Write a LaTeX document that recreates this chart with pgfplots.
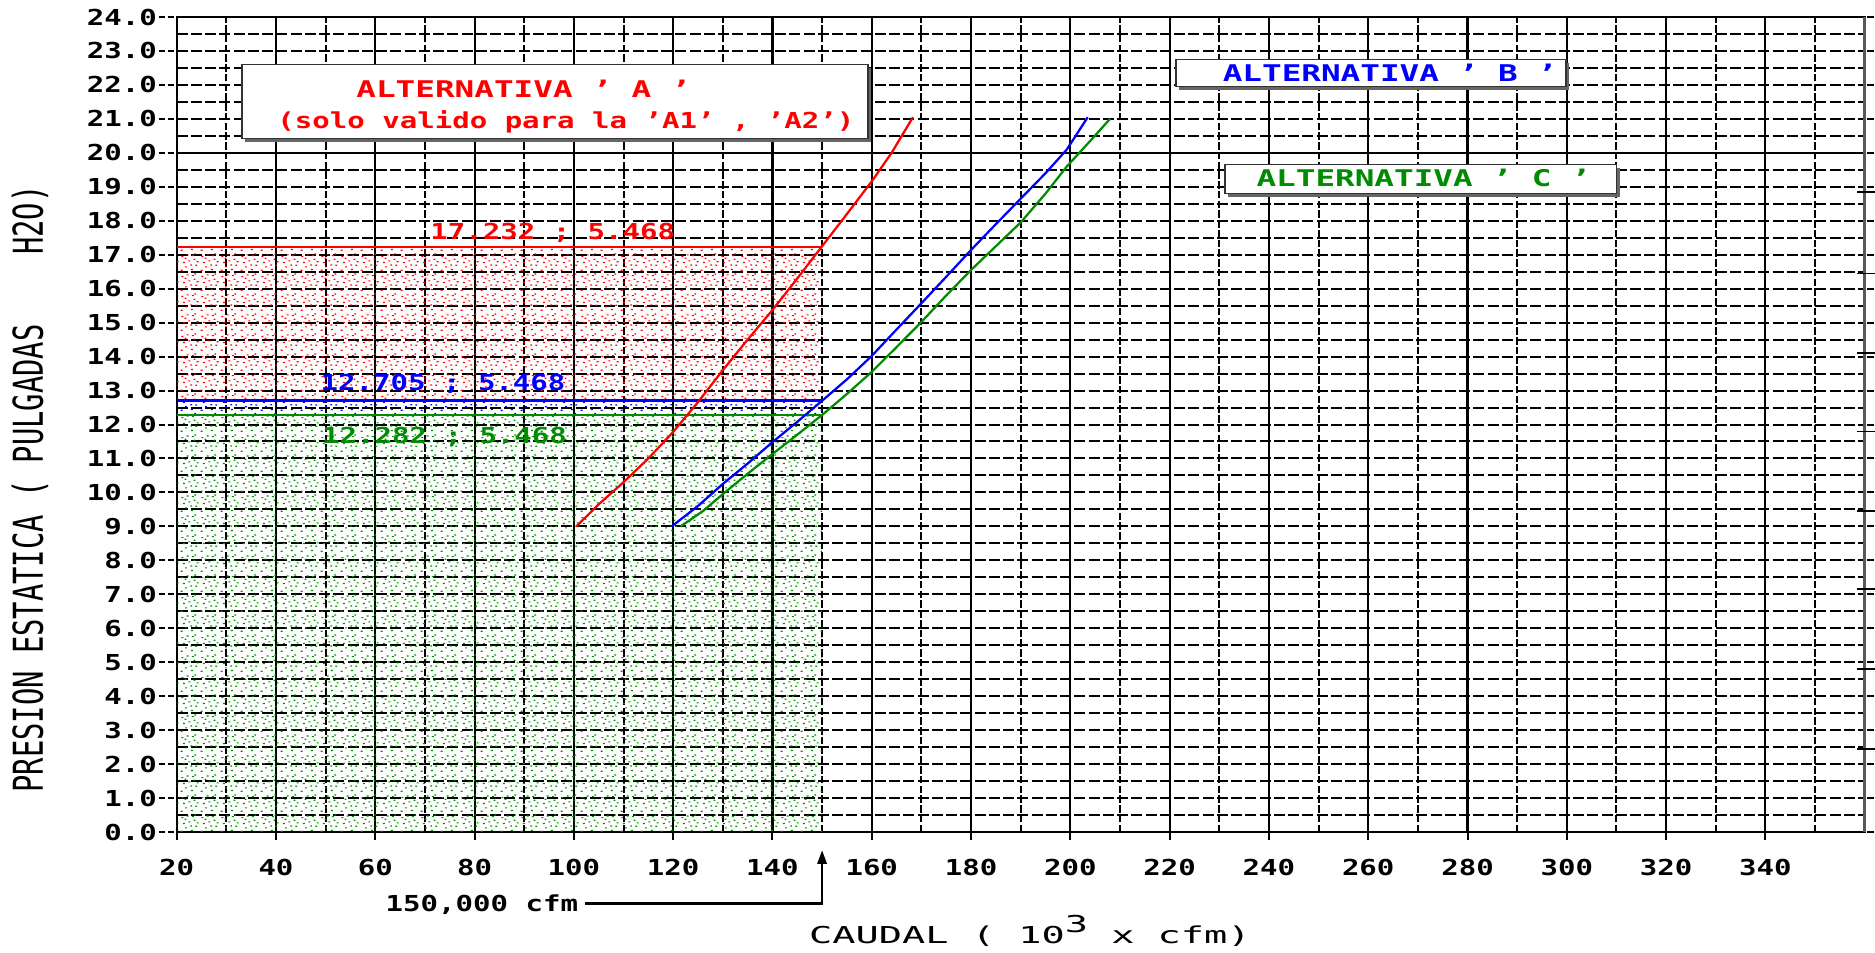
\documentclass[border=0pt]{standalone}
\usepackage{fontspec}
\setmainfont{DejaVu Sans Mono}[FakeStretch=1.32]
\newfontfamily\fbx{DejaVu Sans Mono}[FakeStretch=1.42]
\newfontfamily\fyl{DejaVu Sans Mono}[FakeStretch=0.70]
\newfontfamily\fcd{DejaVu Sans Mono}[FakeStretch=1.66]
\usepackage{graphicx}
\usepackage{pgfplots}
\pgfplotsset{compat=1.18}
\usetikzlibrary{patterns,arrows.meta}

\definecolor{cR}{RGB}{255,0,0}
\definecolor{cB}{RGB}{0,0,255}
\definecolor{cG}{RGB}{0,140,0}

\newcommand\speck[2]{\pgfpathrectangle{\pgfqpoint{#1pt}{#2pt}}{\pgfqpoint{0.8pt}{0.5pt}}}
\pgfdeclarepatternformonly{stipple}{\pgfqpoint{0pt}{0pt}}{\pgfqpoint{8pt}{8pt}}{\pgfqpoint{8pt}{8pt}}{%
  \speck{0.3}{0.5}\speck{2.1}{1.9}\speck{4.6}{0.8}\speck{6.4}{2.6}\speck{1.2}{3.7}%
  \speck{3.5}{4.4}\speck{5.7}{5.1}\speck{7.0}{4.0}\speck{0.6}{6.2}\speck{2.8}{6.9}%
  \speck{4.3}{2.7}\speck{6.0}{7.3}\speck{1.9}{5.5}\speck{5.0}{6.6}%
  \pgfusepath{fill}}

\begin{document}
\begin{tikzpicture}
\path[use as bounding box] (-70.68pt,-48pt) rectangle (679.32pt,332.8pt);
\begin{axis}[
  scale only axis, width=675.2pt, height=326pt,
  xmin=20, xmax=360, ymin=0, ymax=24,
  clip=false,
  axis line style={black, line width=0.8pt},
  xtick={20,40,60,80,100,120,140,160,180,200,220,240,260,280,300,320,340},
  xticklabels={20,40,60,80,100,120,140,160,180,200,220,240,260,280,300,320,340},
  minor xtick={30,50,70,90,110,130,150,170,190,210,230,250,270,290,310,330,350},
  ytick={0,1,2,3,4,5,6,7,8,9,10,11,12,13,14,15,16,17,18,19,20,21,22,23,24},
  yticklabels={0.0,1.0,2.0,3.0,4.0,5.0,6.0,7.0,8.0,9.0,10.0,11.0,12.0,13.0,14.0,15.0,16.0,17.0,18.0,19.0,20.0,21.0,22.0,23.0,24.0},
  minor ytick={0.5,1.5,2.5,3.5,4.5,5.5,6.5,7.5,8.5,9.5,10.5,11.5,12.5,13.5,14.5,15.5,16.5,17.5,18.5,19.5,20.5,21.5,22.5,23.5},
  xmajorgrids, xminorgrids, ymajorgrids, yminorgrids,
  major x grid style={black, line width=0.85pt},
  minor x grid style={black, line width=0.8pt, dash pattern=on 3pt off 0.9pt},
  major y grid style={black, line width=0.8pt, dash pattern=on 4.4pt off 1.3pt},
  minor y grid style={black, line width=0.8pt, dash pattern=on 4.4pt off 1.3pt},
  tick align=outside, major tick length=7.2pt, minor tick length=0pt,
  xtick style={draw=none},
  ytick style={black, line width=0.8pt, dash pattern=on 2.6pt off 1pt},
  xticklabel style={font=\bfseries\fontsize{8.8}{10}\selectfont},
  yticklabel style={font=\bfseries\fontsize{8.8}{10}\selectfont, xshift=2.8pt},
]
% shaded regions
\addplot[draw=none, pattern=stipple, pattern color=cG] coordinates {(20,0) (150,0) (150,12.282) (20,12.282)};
\addplot[draw=none, pattern=stipple, pattern color=cB] coordinates {(20,12.282) (150,12.282) (150,12.705) (20,12.705)};
\addplot[draw=none, pattern=stipple, pattern color=cR] coordinates {(20,12.705) (150,12.705) (150,17.232) (20,17.232)};
% operating point lines
\addplot[cR, line width=1pt] coordinates {(20,17.232) (150,17.232)};
\addplot[cB, line width=1pt] coordinates {(20,12.705) (150,12.705)};
\addplot[cG, line width=1pt] coordinates {(20,12.282) (150,12.282)};
% solid grid line at 20
\addplot[black, line width=0.9pt] coordinates {(20,20) (360,20)};
% curves
\addplot[cR, line width=0.9pt] coordinates {(100.5,9.0) (105,9.65) (110,10.3) (115,11.0) (120,11.78) (125,12.66) (130,13.6) (135,14.5) (140,15.37) (145,16.3) (150,17.25) (155,18.2) (160,19.16) (164,20.0) (168.3,21.05)};
\addplot[cB, line width=0.9pt] coordinates {(119.7,9.0) (125,9.6) (130,10.25) (135,10.85) (140,11.48) (145,12.08) (150,12.7) (155,13.33) (160,14.02) (165,14.8) (170,15.57) (175,16.35) (180,17.14) (185,17.9) (190,18.65) (195,19.4) (199.3,20.1) (203.5,21.05)};
\addplot[cG, line width=0.9pt] coordinates {(121.5,9.0) (126,9.45) (130,9.95) (135,10.55) (140,11.13) (145,11.7) (150,12.28) (155,12.9) (160,13.55) (165,14.28) (170,15.02) (175,15.8) (180,16.55) (185,17.25) (190,17.95) (195,18.8) (199.3,19.6) (204,20.35) (208,21.0)};
% right border
\addplot[black!65, line width=1.2pt] coordinates {(360,0) (360,24)};
% x ticks
\addplot[ycomb, black, line width=0.8pt, mark=none] coordinates {(20,-0.2356) (40,-0.2356) (60,-0.2356) (80,-0.2356) (100,-0.2356) (120,-0.2356) (140,-0.2356) (160,-0.2356) (180,-0.2356) (200,-0.2356) (220,-0.2356) (240,-0.2356) (260,-0.2356) (280,-0.2356) (300,-0.2356) (320,-0.2356) (340,-0.2356)};
% marks on right edge
\addplot[black, line width=0.6pt, unbounded coords=jump] coordinates {(358.4,18.85) (362,18.85) (362,nan) (358.4,16.45) (362,16.45) (362,nan) (358.4,14.1) (362,14.1) (362,nan) (358.4,11.8) (362,11.8) (362,nan) (358.4,9.45) (362,9.45) (362,nan) (358.4,7.15) (362,7.15) (362,nan) (358.4,4.8) (362,4.8) (362,nan) (358.4,2.45) (362,2.45)};

% boxes
\fill[black!60] ([xshift=1.3pt,yshift=-1.3pt]axis cs:33.2,20.42) rectangle ([xshift=1.3pt,yshift=-1.3pt]axis cs:159.2,22.6);
\draw[fill=white, draw=black!80, line width=0.6pt] (axis cs:33.2,20.42) rectangle (axis cs:159.2,22.6);
\fill[black!60] ([xshift=1.3pt,yshift=-1.3pt]axis cs:221.3,21.95) rectangle ([xshift=1.3pt,yshift=-1.3pt]axis cs:299.8,22.75);
\draw[fill=white, draw=black!80, line width=0.6pt] (axis cs:221.3,21.95) rectangle (axis cs:299.8,22.75);
\fill[black!60] ([xshift=1.3pt,yshift=-1.3pt]axis cs:231.2,18.8) rectangle ([xshift=1.3pt,yshift=-1.3pt]axis cs:310,19.65);
\draw[fill=white, draw=black!80, line width=0.6pt] (axis cs:231.2,18.8) rectangle (axis cs:310,19.65);

\node[anchor=base west, inner sep=0pt, text=cR, font=\fbx\bfseries\fontsize{9.2}{10}\selectfont] at (axis cs:56.1,21.62) {ALTERNATIVA ’ A ’};
\node[anchor=base west, inner sep=0pt, text=cR, font=\bfseries\fontsize{8.8}{10}\selectfont] at (axis cs:40.2,20.73) {(solo valido para la ’A1’ , ’A2’)};
\node[anchor=base west, inner sep=0pt, text=cB, font=\fbx\bfseries\fontsize{9.2}{10}\selectfont] at (axis cs:230.6,22.1) {ALTERNATIVA ’ B ’};
\node[anchor=base west, inner sep=0pt, text=cG, font=\fbx\bfseries\fontsize{9.2}{10}\selectfont] at (axis cs:237.4,19.0) {ALTERNATIVA ’ C ’};

% value labels
\node[anchor=base west, inner sep=0pt, text=cR, font=\bfseries\fontsize{8.8}{10}\selectfont] at (axis cs:71.0,17.45) {17.232 ; 5.468};
\node[anchor=base west, inner sep=0pt, text=cB, font=\bfseries\fontsize{8.8}{10}\selectfont] at (axis cs:48.9,13.0) {12.705 ; 5.468};
\node[anchor=base west, inner sep=0pt, text=cG, font=\bfseries\fontsize{8.8}{10}\selectfont] at (axis cs:49.2,11.43) {12.282 ; 5.468};

% 150,000 cfm annotation
\node[anchor=base west, inner sep=0pt, font=\bfseries\fontsize{8.8}{10}\selectfont] at (axis cs:62.0,-2.35) {150,000 cfm};
\draw[line width=1.1pt, -{Triangle[length=5.5pt,width=3.6pt]}] (axis cs:102.3,-2.10) -- (axis cs:150,-2.10) -- (axis cs:150,-0.53);

% axis labels
\node[anchor=base west, inner sep=0pt, font=\fcd\fontsize{9.3}{10}\selectfont] at (axis cs:147.3,-3.28) {CAUDAL ( 10\raisebox{0.45em}{3} x cfm)};
\node[rotate=90, inner sep=0pt, font=\fyl\fontsize{16.46}{18}\selectfont] at (axis cs:-9.56,10.1) {PRESION ESTATICA ( PULGADAS\ \ \ \ H2O)};
\end{axis}
\end{tikzpicture}
\end{document}
